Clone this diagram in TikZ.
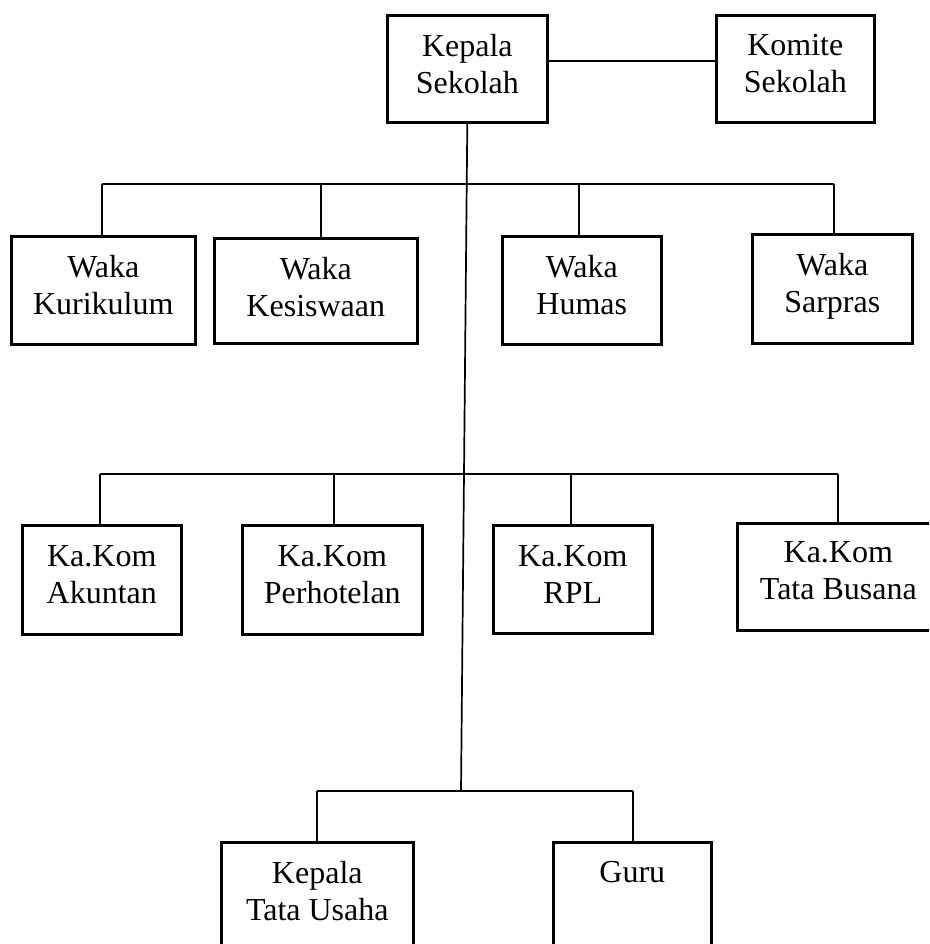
\documentclass[tikz,border=0pt]{standalone}
\usepackage{fontspec}
\setmainfont{Liberation Serif}
\begin{document}
\begin{tikzpicture}[x=1pt,y=-1pt,
  box/.style={draw=black,line width=2.6pt,inner sep=0pt,anchor=north west},
  txt/.style={align=center,inner sep=0pt,anchor=north,font=\fontsize{32}{37}\selectfont},
  conn/.style={draw=black,line width=1.7pt}]
\useasboundingbox (0,0) rectangle (929,944);
\clip (0,0) rectangle (929,944);
% boxes
\node[box,minimum width=160pt,minimum height=107pt] (ks) at (386,14) {};
\node[box,minimum width=158pt,minimum height=107pt] (kom) at (715,14) {};
\node[box,minimum width=184pt,minimum height=108pt] (w1) at (10,235) {};
\node[box,minimum width=203pt,minimum height=105pt] (w2) at (213,237) {};
\node[box,minimum width=159pt,minimum height=108pt] (w3) at (501,235) {};
\node[box,minimum width=160pt,minimum height=109pt] (w4) at (751,233) {};
\node[box,minimum width=159pt,minimum height=109pt] (k1) at (21,524) {};
\node[box,minimum width=180pt,minimum height=109pt] (k2) at (241,524) {};
\node[box,minimum width=159pt,minimum height=108pt] (k3) at (492,524) {};
\node[box,minimum width=202pt,minimum height=107pt] (k4) at (736,522) {};
\node[box,minimum width=192pt,minimum height=130pt] (tu) at (220,841) {};
\node[box,minimum width=158pt,minimum height=130pt] (gu) at (552,841) {};
% texts
\node[txt] (ks-t) at ([yshift=-20pt]ks.north) {Kepala\\Sekolah};
\node[txt] (kom-t) at ([yshift=-20pt]kom.north) {Komite\\Sekolah};
\node[txt] (w1-t) at ([yshift=-20pt]w1.north) {Waka\\Kurikulum};
\node[txt] (w2-t) at ([yshift=-20pt]w2.north) {Waka\\Kesiswaan};
\node[txt] (w3-t) at ([yshift=-20pt]w3.north) {Waka\\Humas};
\node[txt] (w4-t) at ([yshift=-20pt]w4.north) {Waka\\Sarpras};
\node[txt] (k1-t) at ([yshift=-21pt]k1.north) {Ka.Kom\\Akuntan};
\node[txt] (k2-t) at ([yshift=-21pt]k2.north) {Ka.Kom\\Perhotelan};
\node[txt] (k3-t) at ([yshift=-21pt]k3.north) {Ka.Kom\\RPL};
\node[txt] (k4-t) at ([yshift=-19pt]k4.north) {Ka.Kom\\Tata Busana};
\node[txt] (tu-t) at ([yshift=-20pt]tu.north) {Kepala\\Tata Usaha};
\node[txt] (gu-t) at ([yshift=-20pt]gu.north) {Guru};
% bus levels
\coordinate (wbus) at (0,184);
\coordinate (kbus) at (0,474);
\coordinate (bbus) at (0,791);
\coordinate (tend) at (461,791);
% connectors
\draw[conn] ([yshift=7.5pt]ks.east) -- ([yshift=7.5pt]kom.west);
\draw[conn] (ks.south) -- (tend);
% waka
\draw[conn] ([xshift=-1pt]w1.north |- wbus) -- ([xshift=2pt]w4.north |- wbus);
\draw[conn] ([xshift=-1pt]w1.north) -- ([xshift=-1pt]w1.north |- wbus);
\draw[conn] ([xshift=5.5pt]w2.north) -- ([xshift=5.5pt]w2.north |- wbus);
\draw[conn] ([xshift=-2.5pt]w3.north) -- ([xshift=-2.5pt]w3.north |- wbus);
\draw[conn] ([xshift=2pt]w4.north) -- ([xshift=2pt]w4.north |- wbus);
% kakom
\draw[conn] ([xshift=-1.5pt]k1.north |- kbus) -- (k4.north |- kbus);
\draw[conn] ([xshift=-1.5pt]k1.north) -- ([xshift=-1.5pt]k1.north |- kbus);
\draw[conn] ([xshift=2pt]k2.north) -- ([xshift=2pt]k2.north |- kbus);
\draw[conn] ([xshift=-1.5pt]k3.north) -- ([xshift=-1.5pt]k3.north |- kbus);
\draw[conn] (k4.north) -- (k4.north |- kbus);
% bottom
\draw[conn] (tu.north |- bbus) -- ([xshift=1pt]gu.north |- bbus);
\draw[conn] (tu.north) -- (tu.north |- bbus);
\draw[conn] ([xshift=1pt]gu.north) -- ([xshift=1pt]gu.north |- bbus);
\end{tikzpicture}
\end{document}
